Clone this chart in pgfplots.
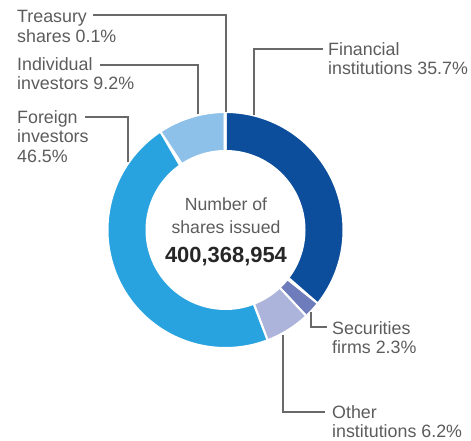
\documentclass[border=0pt]{standalone}
\usepackage{pgfplots}
\pgfplotsset{compat=1.18}
\usepackage{fontspec}
\setmainfont{Liberation Sans}
\definecolor{cFin}{RGB}{12,78,155}
\definecolor{cSec}{RGB}{110,124,187}
\definecolor{cOth}{RGB}{172,180,219}
\definecolor{cFor}{RGB}{41,163,223}
\definecolor{cInd}{RGB}{142,193,233}
\definecolor{cTre}{RGB}{60,70,120}
\definecolor{labelgray}{RGB}{92,92,92}
\definecolor{leadgray}{RGB}{105,105,105}

% donut geometry (image pixels, y downwards)
\def\cx{225.5}
\def\cy{230}
\def\Ro{118}
\def\Ri{79}
\gdef\cum{0}

% one ring segment, #1 = share in percent, #2 = colour
\newcommand\slice[2]{%
  \pgfmathsetmacro\aS{90-3.6*\cum}%
  \pgfmathsetmacro\aE{90-3.6*(\cum+#1)}%
  \edef\doslice{\noexpand\addplot[fill=#2, draw=white, line width=2bp,
      domain=0:2, samples=201, variable=\noexpand\t]
    ({\cx+ifthenelse(\noexpand\t<1.005,\Ro,\Ri)*cos(\aS+(\aE-\aS)*ifthenelse(\noexpand\t<1.005,\noexpand\t,2-\noexpand\t))},
     {\cy-ifthenelse(\noexpand\t<1.005,\Ro,\Ri)*sin(\aS+(\aE-\aS)*ifthenelse(\noexpand\t<1.005,\noexpand\t,2-\noexpand\t))}) -- cycle;}%
  \doslice
  \pgfmathsetmacro\tmp{\cum+#1}\xdef\cum{\tmp}%
}

\tikzset{
  lbl/.style={anchor=base west, inner sep=0pt, font=\fontsize{17.9}{19.5}\selectfont, text=labelgray},
  mid/.style={anchor=base, inner sep=0pt, font=\fontsize{17.7}{19.5}\selectfont, text=labelgray},
  lead/.style={leadgray, line width=1.2bp, no markers},
}

\begin{document}
\begin{tikzpicture}
\begin{axis}[width=471bp, height=441bp, scale only axis,
  xmin=0, xmax=471, ymin=0, ymax=441, y dir=reverse,
  hide axis, clip=false]
  \path (rel axis cs:0,0) rectangle (rel axis cs:1,1);

  \slice{35.7}{cFin}
  \slice{2.3}{cSec}
  \slice{6.2}{cOth}
  \slice{46.5}{cFor}
  \slice{9.2}{cInd}
  \slice{0.1}{cTre}

  % leader lines
  \addplot[lead] coordinates {(93,15) (226,15) (226,112)};
  \addplot[lead] coordinates {(100,65) (198,65) (198,114)};
  \addplot[lead] coordinates {(85,117) (128,117) (128,162)};
  \addplot[lead] coordinates {(323,49) (254,49) (254,115)};
  \addplot[lead] coordinates {(311,312) (311,327) (327,327)};
  \addplot[lead] coordinates {(283,335) (283,412) (325,412)};

  % labels
  \node[lbl] at (axis cs:17,23) {Treasury};
  \node[lbl] at (axis cs:17,43) {shares 0.1\%};
  \node[lbl] at (axis cs:17,71) {Individual};
  \node[lbl] at (axis cs:17,90) {investors 9.2\%};
  \node[lbl] at (axis cs:17,123) {Foreign};
  \node[lbl] at (axis cs:17,142) {investors};
  \node[lbl] at (axis cs:17,162) {46.5\%};
  \node[lbl] at (axis cs:328,56) {Financial};
  \node[lbl] at (axis cs:328,75) {institutions 35.7\%};
  \node[lbl] at (axis cs:332,334) {Securities};
  \node[lbl] at (axis cs:332,353) {firms 2.3\%};
  \node[lbl] at (axis cs:332,418) {Other};
  \node[lbl] at (axis cs:332,437) {institutions 6.2\%};

  % centre text
  \node[mid] at (axis cs:226,210) {Number of};
  \node[mid] at (axis cs:226,233) {shares issued};
  \node[anchor=base, inner sep=0pt, font=\fontsize{22}{24}\selectfont\bfseries, text=black!85] at (axis cs:226,262) {400,368,954};
\end{axis}
\end{tikzpicture}
\end{document}
